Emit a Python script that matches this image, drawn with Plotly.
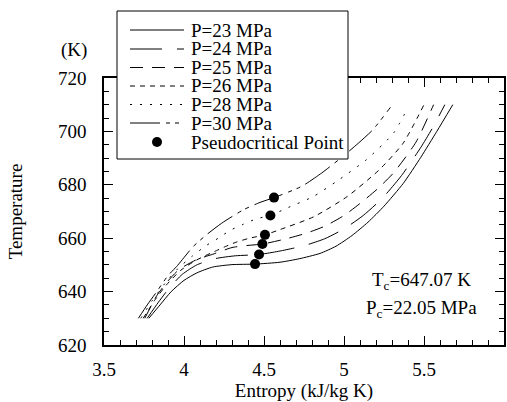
import plotly.graph_objects as go

# ---------------- data ----------------
pressures = [23, 24, 25, 26, 28, 30]

s_23 = [3.78, 3.85, 3.92, 4.00, 4.08, 4.18, 4.30, 4.444, 4.60, 4.72, 4.85, 4.95, 5.05, 5.15, 5.25, 5.37, 5.48, 5.58, 5.68]
T_23 = [630, 635, 640, 644.2, 647, 649.2, 650.1, 650.3, 651.0, 652.3, 654.3, 657, 661, 666, 672, 680.5, 690.3, 700, 710]

s_24 = [3.77, 3.84, 3.91, 3.99, 4.08, 4.20, 4.32, 4.469, 4.60, 4.75, 4.88, 5.00, 5.12, 5.24, 5.36, 5.48, 5.56, 5.63]
T_24 = [630, 636, 641.5, 646.5, 650, 652.4, 653.4, 653.9, 655.2, 657.2, 659.8, 663.5, 668.5, 675, 683.5, 694, 702, 710]

s_25 = [3.755, 3.83, 3.90, 3.97, 4.08, 4.18, 4.30, 4.40, 4.49, 4.64, 4.76, 4.88, 5.00, 5.10, 5.21, 5.31, 5.45, 5.56]
T_25 = [630, 638.5, 644, 648.3, 652, 654, 656.5, 657.3, 657.8, 659.8, 661.8, 664.5, 668.5, 673, 678.5, 684.5, 696, 710]

s_26 = [3.745, 3.82, 3.89, 3.98, 4.06, 4.12, 4.19, 4.26, 4.33, 4.41, 4.506, 4.58, 4.81, 5.02, 5.22, 5.37, 5.50]
T_26 = [630, 637, 642.5, 648, 651.2, 653.1, 655, 656.9, 658.6, 660, 661.25, 662.8, 668, 675.6, 685.6, 695.6, 710]

s_28 = [3.73, 3.80, 3.88, 3.96, 4.048, 4.13, 4.214, 4.29, 4.37, 4.454, 4.54, 4.64, 4.808, 4.954, 5.14, 5.31, 5.40]
T_28 = [630, 636.5, 643, 648.5, 653.1, 656.9, 660, 663, 665.2, 667.3, 668.5, 671.2, 675.6, 681.3, 689.4, 699.4, 709]

s_30 = [3.715, 3.77, 3.83, 3.90, 3.954, 4.058, 4.14, 4.235, 4.37, 4.475, 4.5625, 4.735, 4.86, 4.98, 5.09, 5.18, 5.29]
T_30 = [630, 635, 640, 646, 649.4, 656.9, 661.25, 665.6, 670.6, 673.4, 675.2, 679.4, 684.4, 690, 695.6, 700.6, 709]

pc_s = [4.444, 4.469, 4.490, 4.506, 4.540, 4.5625]
pc_T = [650.3, 653.9, 657.8, 661.25, 668.5, 675.2]

legend_labels = ["P=23 MPa", "P=24 MPa", "P=25 MPa", "P=26 MPa", "P=28 MPa", "P=30 MPa"]
pc_label = "Pseudocritical Point"

x_ticks = [3.5, 4, 4.5, 5, 5.5, 6]
x_tick_text = ["3.5", "4", "4.5", "5", "5.5", "6"]
y_ticks = [620, 640, 660, 680, 700, 720]

# ---------------- styles ----------------
FONT = "Liberation Serif, Times New Roman, Times, serif"
FS = 19
dashes = ["solid", "32px,15px", "13px,9px", "5px,5px", "2px,8px", "30px,6px,4px,5px,4px,6px"]

series = [(s_23, T_23), (s_24, T_24), (s_25, T_25), (s_26, T_26), (s_28, T_28), (s_30, T_30)]

fig = go.Figure()
for (s, T), d, lab in zip(series, dashes, legend_labels):
    fig.add_trace(go.Scatter(
        x=s, y=T, mode="lines", name=lab,
        line=dict(color="black", width=1, dash=d, shape="spline", smoothing=0.6),
        showlegend=False, hoverinfo="skip"))

fig.add_trace(go.Scatter(
    x=pc_s, y=pc_T, mode="markers", name=pc_label,
    marker=dict(color="black", size=10), showlegend=False))

# ---------------- layout ----------------
ML, MR, MT, MB = 104, 3, 78, 57
W, H = 507, 402
PW, PH = W - ML - MR, H - MT - MB

def px_x(px):
    return (px - ML) / PW

def px_y(py):
    return (H - MB - py) / PH

shapes = []
annotations = []

# manual legend box
shapes.append(dict(type="rect", xref="paper", yref="paper",
                   x0=px_x(117), x1=px_x(348), y0=px_y(159), y1=px_y(11),
                   fillcolor="white", line=dict(color="black", width=1), layer="above"))
row_y = [30, 49, 67.5, 86, 104.5, 123, 142]
for i, (lab, d) in enumerate(zip(legend_labels, dashes)):
    yy = px_y(row_y[i])
    shapes.append(dict(type="line", xref="paper", yref="paper",
                       x0=px_x(130), x1=px_x(184), y0=yy, y1=yy,
                       line=dict(color="black", width=1, dash=d), layer="above"))
    annotations.append(dict(xref="paper", yref="paper", x=px_x(189), y=yy,
                            text=lab, showarrow=False, xanchor="left", yanchor="middle",
                            font=dict(family=FONT, size=FS, color="black")))
yy = px_y(row_y[6])
shapes.append(dict(type="circle", xref="paper", yref="paper",
                   xsizemode="pixel", ysizemode="pixel",
                   xanchor=px_x(157), yanchor=yy, x0=-5, x1=5, y0=-5, y1=5,
                   fillcolor="black", line=dict(color="black", width=0), layer="above"))
annotations.append(dict(xref="paper", yref="paper", x=px_x(189), y=yy,
                        text=pc_label, showarrow=False, xanchor="left", yanchor="middle",
                        font=dict(family=FONT, size=FS, color="black")))

# unit label and critical values
annotations.append(dict(xref="paper", yref="paper", x=px_x(74), y=px_y(50),
                        text="(K)", showarrow=False, xanchor="center", yanchor="middle",
                        font=dict(family=FONT, size=FS, color="black")))
annotations.append(dict(xref="paper", yref="paper", x=px_x(421), y=px_y(281),
                        text="T<sub>c</sub>=647.07 K", showarrow=False, xanchor="center", yanchor="middle",
                        font=dict(family=FONT, size=FS, color="black")))
annotations.append(dict(xref="paper", yref="paper", x=px_x(421), y=px_y(309),
                        text="P<sub>c</sub>=22.05 MPa", showarrow=False, xanchor="center", yanchor="middle",
                        font=dict(family=FONT, size=FS, color="black")))

axis_common = dict(
    showline=True, linecolor="black", linewidth=1.5, mirror="ticks",
    ticks="inside", ticklen=9, tickwidth=1, tickcolor="black",
    showgrid=False, zeroline=False,
    tickfont=dict(family=FONT, size=FS, color="black"),
)

fig.update_layout(
    width=W, height=H,
    margin=dict(l=ML, r=MR, t=MT, b=MB, autoexpand=False),
    paper_bgcolor="white", plot_bgcolor="white",
    font=dict(family=FONT, size=FS, color="black"),
    showlegend=False,
    shapes=shapes, annotations=annotations,
    xaxis=dict(range=[3.5, 6], tickvals=x_ticks, ticktext=x_tick_text,
               minor=dict(ticks="inside", ticklen=5, dtick=0.1, tick0=3.5, tickcolor="black", tickwidth=1),
               ticklabelstandoff=6,
               title=dict(text="Entropy (kJ/kg K)", font=dict(family=FONT, size=FS, color="black"), standoff=4),
               **axis_common),
    yaxis=dict(range=[620, 720], tickvals=y_ticks,
               minor=dict(ticks="inside", ticklen=5, dtick=5, tick0=620, tickcolor="black", tickwidth=1),
               ticklabelstandoff=12,
               title=dict(text="Temperature", font=dict(family=FONT, size=FS, color="black"), standoff=30),
               **axis_common),
)

fig.write_html("out.html")
